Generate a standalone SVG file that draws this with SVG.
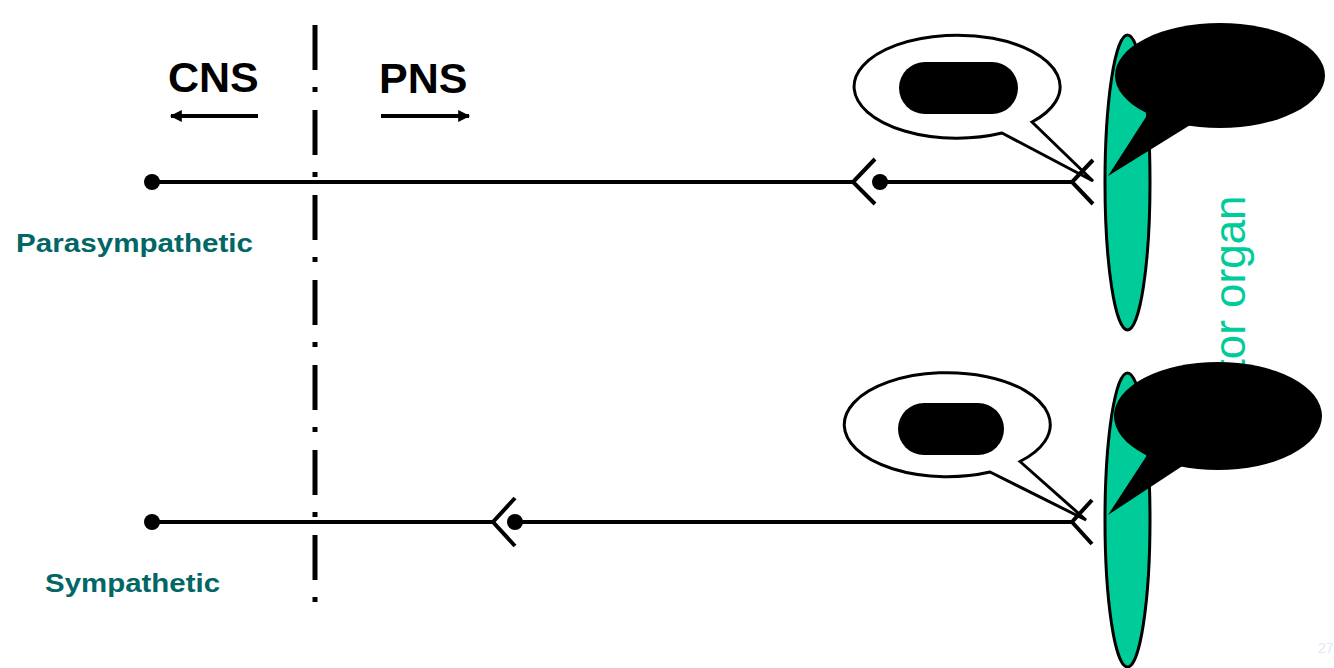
<svg xmlns="http://www.w3.org/2000/svg" width="1334" height="668" viewBox="0 0 1334 668">
<style>
.ln{stroke:#000;stroke-width:4;fill:none}
.dot{fill:#000}
.bub{fill:#fff;stroke:#000;stroke-width:3;stroke-linejoin:miter}
.org{fill:#00cc99;stroke:#000;stroke-width:3}
.lbl{font-family:"Liberation Sans",Arial,sans-serif;font-weight:bold;fill:#006666}
.big{font-family:"Liberation Sans",Arial,sans-serif;font-weight:bold;font-size:43px;fill:#000}
</style>
<defs>
<marker id="ah" viewBox="0 0 10 10" refX="9" refY="5" markerWidth="3.4" markerHeight="3" orient="auto" markerUnits="strokeWidth">
<path d="M0 0 L10 5 L0 10 Z" fill="#000"/>
</marker>
</defs>
<rect width="1334" height="668" fill="#fff"/>

<g id="effector-label">
<text x="1245" y="471" transform="rotate(-90 1245 471)" font-family="'Liberation Sans',Arial,sans-serif" font-size="44" fill="#00cc99">Effector organ</text>
</g>

<g id="divider">
<line x1="315" y1="25" x2="315" y2="602" stroke="#000" stroke-width="5" stroke-dasharray="45 17 5 18"/>
</g>

<g id="cns">
<text class="big" x="168" y="92">CNS</text>
<line class="ln" x1="258" y1="116" x2="171" y2="116" marker-end="url(#ah)"/>
</g>
<g id="pns">
<text class="big" x="379" y="93">PNS</text>
<line class="ln" x1="381" y1="116" x2="469" y2="116" marker-end="url(#ah)"/>
</g>

<g id="label-para">
<text class="lbl" x="16" y="252" font-size="26.5" textLength="237" lengthAdjust="spacingAndGlyphs">Parasympathetic</text>
</g>
<g id="label-symp">
<text class="lbl" x="45" y="592" font-size="26.5" textLength="175" lengthAdjust="spacingAndGlyphs">Sympathetic</text>
</g>

<g id="organ-upper">
<ellipse class="org" cx="1127.5" cy="182.5" rx="22.5" ry="147.5"/>
</g>
<g id="organ-lower">
<ellipse class="org" cx="1127.5" cy="520" rx="22.5" ry="147"/>
</g>

<g id="callout-upper">
<ellipse cx="1220" cy="75.5" rx="105" ry="52.5" fill="#000"/>
<polygon points="1108,176 1153,106 1195,122" fill="#000"/>
</g>
<g id="callout-lower">
<ellipse cx="1218" cy="416" rx="104" ry="54" fill="#000"/>
<polygon points="1108,515 1153,446 1190,461" fill="#000"/>
</g>

<g id="bubble-upper">
<path class="bub" d="M1032 122 L1093 181 L1002 133 A103 51.5 0 1 1 1032 122 Z"/>
<rect x="899" y="62" width="119" height="52" rx="26" fill="#000"/>
</g>
<g id="bubble-lower">
<path class="bub" d="M1020 461.5 L1086 520 L990 472 A103 52 0 1 1 1020 461.5 Z"/>
<rect x="898" y="403" width="106" height="52" rx="26" fill="#000"/>
</g>

<g id="connectors">
<circle class="dot" cx="152" cy="182" r="8"/>
<line class="ln" x1="152" y1="182" x2="853" y2="182"/>
<polyline class="ln" points="875,159 853,182 875,204"/>
<circle class="dot" cx="880" cy="182" r="8"/>
<line class="ln" x1="880" y1="182" x2="1072" y2="182"/>
<polyline class="ln" points="1093,160 1072,182 1093,204"/>
<circle class="dot" cx="152" cy="522" r="8"/>
<line class="ln" x1="152" y1="522" x2="493" y2="522"/>
<polyline class="ln" points="515,498 493,522 515,546"/>
<circle class="dot" cx="515" cy="522" r="8"/>
<line class="ln" x1="515" y1="522" x2="1072" y2="522"/>
<polyline class="ln" points="1092,500 1072,522 1092,544"/>
</g>

<g id="page-number">
<text x="1318" y="653" font-family="'Liberation Sans',Arial,sans-serif" font-size="14" fill="#e2e8f2">27</text>
</g>
</svg>
